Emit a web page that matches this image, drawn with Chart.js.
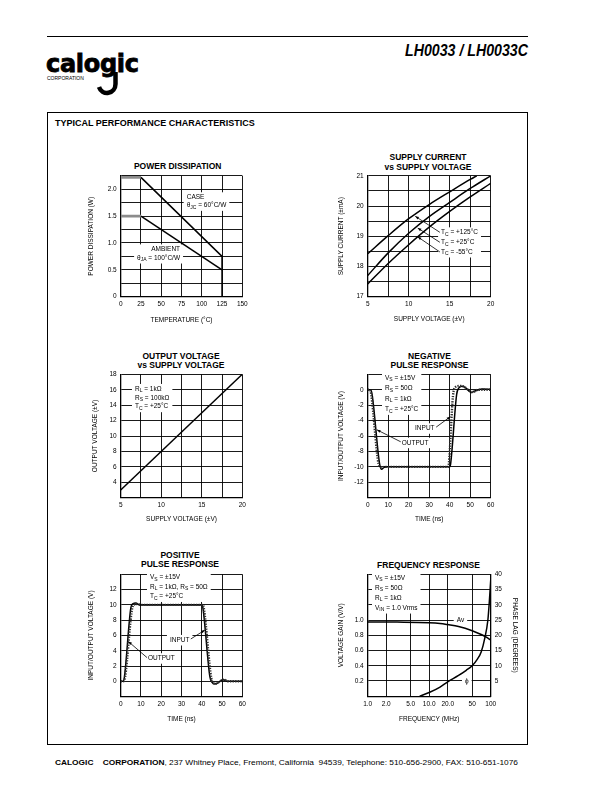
<!DOCTYPE html>
<html>
<head>
<meta charset="utf-8">
<title>LH0033 / LH0033C</title>
<script src="https://cdn.jsdelivr.net/npm/chart.js@4.4.1/dist/chart.umd.min.js"></script>
<style>
html, body { margin: 0; padding: 0; background: #fff; }
body { position: relative; width: 612px; height: 792px; overflow: hidden; }
#page { position: absolute; left: 0; top: 0; }
.plot { position: absolute; }
</style>
</head>
<body>
<svg id="page" width="612" height="792" font-family="'Liberation Sans', Arial, Helvetica, sans-serif">
  <line x1="47" y1="36.5" x2="528" y2="36.5" stroke="#000" stroke-width="1"/>
  <text x="46" y="71.7" font-family="'DejaVu Sans'" font-weight="bold" font-size="24" letter-spacing="-0.3" stroke="#000" stroke-width="0.8">calogic</text>
  <path d="M115.5 72 L115.5 84 A8.5 9 0 0 1 99 87" fill="none" stroke="#000" stroke-width="4.5"/>
  <text x="47" y="79.5" font-size="5">CORPORATION</text>
  <text x="528" y="56.4" text-anchor="end" font-size="16" font-weight="bold" font-style="italic" textLength="123" lengthAdjust="spacingAndGlyphs">LH0033 / LH0033C</text>
  <rect x="47.5" y="112.5" width="480" height="632" fill="none" stroke="#000" stroke-width="1"/>
  <text x="55" y="125.9" font-size="9" font-weight="bold">TYPICAL PERFORMANCE CHARACTERISTICS</text>
  <g font-size="8.5" font-weight="bold" text-anchor="middle">
    <text x="177.7" y="168.9">POWER DISSIPATION</text>
    <text x="428" y="160.4">SUPPLY CURRENT</text>
    <text x="428" y="169.6">vs SUPPLY VOLTAGE</text>
    <text x="181" y="358.6">OUTPUT VOLTAGE</text>
    <text x="181" y="367.8">vs SUPPLY VOLTAGE</text>
    <text x="429.5" y="358.6">NEGATIVE</text>
    <text x="429.5" y="367.8">PULSE RESPONSE</text>
    <text x="180" y="558.4">POSITIVE</text>
    <text x="180" y="567.4">PULSE RESPONSE</text>
    <text x="428.5" y="568.1">FREQUENCY RESPONSE</text>
  </g>
  <text x="55" y="764.6" font-size="8" textLength="463" lengthAdjust="spacingAndGlyphs"><tspan font-weight="bold">CALOGIC&#160;&#160;&#160; CORPORATION</tspan>, 237 Whitney Place, Fremont, California&#160; 94539, Telephone: 510-656-2900, FAX: 510-651-1076</text>
</svg>

<div id="pd" class="plot"></div>
<div id="sc" class="plot"></div>
<div id="ov" class="plot"></div>
<div id="np" class="plot"></div>
<div id="pp" class="plot"></div>
<div id="fr" class="plot"></div>

<script>
// power dissipation vs temperature
var pdCaseTemp  = [0, 25, 125, 125];
var pdCaseWatts = [2.22, 2.22, 0.75, 0];
var pdAmbTemp   = [0, 25, 125];
var pdAmbWatts  = [1.5, 1.5, 0.5];
var pdXTicks  = [0, 25, 50, 75, 100, 125, 150];
var pdYTicks  = [0, 0.5, 1, 1.5, 2];
var pdYLabels = ['0', '0.5', '1.0', '1.5', '2.0'];

// supply current vs supply voltage
var scHotVolts = [5, 7.5, 10, 12.5, 15, 17.5, 18.3];
var scHotCur   = [18.42, 19.02, 19.58, 20.05, 20.47, 20.88, 21];
var scVolts    = [5, 7.5, 10, 12.5, 15, 17.5, 20];
var scRoomCur  = [17.7, 18.45, 19.1, 19.65, 20.12, 20.58, 21];
var scColdCur  = [17.42, 18.1, 18.72, 19.3, 19.82, 20.3, 20.75];
var scXTicks = [5, 10, 15, 20];
var scYTicks = [17, 18, 19, 20, 21];

// output voltage vs supply voltage
var ovSupply = [5, 20];
var ovOutput = [3, 18];
var ovXTicks = [5, 10, 15, 20];
var ovYTicks = [4, 6, 8, 10, 12, 14, 16, 18];

// negative pulse response
var npOutTime = [0, 1.5, 2.2, 5.8, 6.8, 8, 10, 40, 40.4, 43.4, 44.4, 46, 47.5, 50.5, 53, 56, 60];
var npOutput  = [0, 0, -0.7, -9.6, -10.3, -10.05, -10, -10, -9.7, -0.6, 0.2, 0.45, 0.3, -0.35, -0.1, 0.1, 0.05];
var npInTime  = [0, 1, 1.7, 5.3, 6.3, 7, 8, 39.3, 39.6, 41.6, 42.6, 45, 47, 49, 51, 54, 60];
var npInput   = [0, 0, -0.6, -9.6, -10, -10.1, -10, -10, -9.6, -0.8, 0.3, 0.5, 0.4, 0, -0.3, 0, 0];
var npXTicks = [0, 10, 20, 30, 40, 50, 60];
var npYTicks = [0, -2, -4, -6, -8, -10, -12];

// positive pulse response
var ppOutTime = [0, 1.2, 1.8, 5, 6, 7.5, 9, 10, 40, 40.5, 44, 45, 46.3, 48, 50.5, 52, 60];
var ppOutput  = [0, 0, 0.5, 9.6, 10.15, 10.25, 10.05, 10, 10, 9.7, 0.6, -0.1, -0.35, -0.2, 0.25, 0.05, 0];
var ppInTime  = [0, 1.5, 2.2, 5.8, 6.8, 8, 10, 40.5, 41, 44.7, 45.7, 47, 49, 51, 53, 60];
var ppInput   = [0, 0, 0.6, 9.7, 10.05, 10.1, 10, 10, 9.6, 0.4, -0.2, -0.3, 0, 0.2, 0, 0];
var ppXTicks = [0, 10, 20, 30, 40, 50, 60];
var ppYTicks = [0, 2, 4, 6, 8, 10, 12];

// frequency response
var frGainFreq  = [1, 3, 10, 15, 20, 30, 50, 70, 85, 100];
var frGain      = [0.975, 0.973, 0.965, 0.955, 0.94, 0.915, 0.86, 0.81, 0.775, 0.735];
var frPhaseFreq = [7, 10, 15, 20, 30, 40, 50, 60, 70, 80, 90, 95, 100];
var frPhase     = [0, 1.2, 3, 4.7, 6.8, 8.5, 10, 12, 14.5, 19, 25, 31, 38];
var frXTicks  = [1, 2, 5, 10, 20, 50, 100];
var frXLabels = ['1.0', '2.0', '5.0', '10.0', '20.0', '50', '100'];
var frGainTicks  = [0.2, 0.4, 0.6, 0.8, 1.0];
var frGainLabels = ['0.2', '0.4', '0.6', '0.8', '1.0'];
var frPhaseTicks = [5, 10, 15, 20, 25, 30, 35, 40];

var FONT = "'Liberation Sans', Arial, Helvetica, sans-serif";
var TICK_FONT = 6.5, AXIS_FONT = 6.5, NOTE_FONT = 6.5, SUB_FONT = 5;

Chart.defaults.font.family = FONT;
Chart.defaults.color = '#000';
Chart.defaults.animation = false;
Chart.defaults.plugins.legend.display = false;
Chart.defaults.plugins.tooltip.enabled = false;

function pts(xs, ys) {
    return xs.map(function(x, i) { return {x: x, y: ys[i]}; });
}

function tickText(values, texts) {
    return function(v) {
        for (var i = 0; i < values.length; i++) {
            if (Math.abs(values[i] - v) < 1e-6) {
                return texts ? texts[i] : String(values[i]);
            }
        }
        return '';
    };
}

// canvas box around a plot area, so that the plot lands where the datasheet has it
function frame(p) {
    var half = AXIS_FONT * 1.2 / 2;
    var f = {
        left: Math.floor(p.yTitleX - half),
        top: Math.floor(p.t - 8),
        bottom: Math.ceil(p.xTitleY + half)
    };
    f.right = p.rTitleX ? Math.ceil(p.rTitleX + half) : Math.ceil(p.r + 10);
    f.yW = p.l - f.left;
    f.xH = f.bottom - p.b;
    f.padTop = p.t - f.top;
    f.padRight = p.rTitleX ? 0 : f.right - p.r;
    f.rW = f.right - p.r;
    return f;
}

function axis(o) {
    var vertical = o.position !== 'bottom';
    var cfg = {
        type: o.type || 'linear',
        position: o.position,
        min: o.min,
        max: o.max,
        afterFit: function(s) {
            if (vertical) { s.width = o.size; } else { s.height = o.size; }
        },
        grid: {color: '#000', lineWidth: 0.9, drawTicks: false, drawOnChartArea: o.grid !== false},
        border: {color: '#000', width: 1.3},
        ticks: {
            autoSkip: false,
            maxRotation: 0,
            padding: 4,
            stepSize: o.step,
            font: {size: TICK_FONT},
            callback: tickText(o.ticks, o.labels)
        },
        title: {display: !!o.title, text: o.title, padding: 0, font: {size: AXIS_FONT}}
    };
    if (o.fixed) {
        cfg.afterBuildTicks = function(s) {
            s.ticks = o.fixed.map(function(v) { return {value: v}; });
        };
    }
    return cfg;
}

// "R_{L} = 1kΩ" -> text runs with subscripts
function richParts(str) {
    var parts = [], re = /_\{([^}]*)\}/g, last = 0, m;
    while ((m = re.exec(str))) {
        if (m.index > last) parts.push({t: str.slice(last, m.index), sub: false});
        parts.push({t: m[1], sub: true});
        last = re.lastIndex;
    }
    if (last < str.length) parts.push({t: str.slice(last), sub: false});
    return parts;
}

function richWidth(ctx, str) {
    var w = 0;
    richParts(str).forEach(function(p) {
        ctx.font = (p.sub ? SUB_FONT : NOTE_FONT) + 'px ' + FONT;
        w += ctx.measureText(p.t).width;
    });
    return w;
}

function drawRich(ctx, str, x, y) {
    richParts(str).forEach(function(p) {
        ctx.font = (p.sub ? SUB_FONT : NOTE_FONT) + 'px ' + FONT;
        ctx.fillText(p.t, x, p.sub ? y + 2 : y);
        x += ctx.measureText(p.t).width;
    });
}

function drawArrow(ctx, x1, y1, x2, y2) {
    var a = Math.atan2(y2 - y1, x2 - x1), len = 3.6, wid = 1.4;
    ctx.beginPath();
    ctx.moveTo(x1, y1);
    ctx.lineTo(x2, y2);
    ctx.stroke();
    ctx.beginPath();
    ctx.moveTo(x2, y2);
    ctx.lineTo(x2 - len * Math.cos(a) + wid * Math.sin(a), y2 - len * Math.sin(a) - wid * Math.cos(a));
    ctx.lineTo(x2 - len * Math.cos(a) - wid * Math.sin(a), y2 - len * Math.sin(a) + wid * Math.cos(a));
    ctx.closePath();
    ctx.fill();
}

// text blocks (with white backing that breaks the grid) and leader arrows
function notes(cfg) {
    return {
        id: 'notes',
        beforeDatasetsDraw: function(chart) {
            var ctx = chart.ctx, xs = chart.scales.x, ys = chart.scales.y;
            (cfg.blocks || []).forEach(function(b) {
                var px = xs.getPixelForValue(b.x);
                var items = b.lines.map(function(l) {
                    var w = richWidth(ctx, l[0]);
                    return {text: l[0], left: b.align === 'right' ? px - w : px, w: w, y: ys.getPixelForValue(l[1])};
                });
                var x0 = Math.min.apply(null, items.map(function(i) { return i.left; })) - 3;
                var x1 = Math.max.apply(null, items.map(function(i) { return i.left + i.w; })) + 3;
                var y0 = Math.min.apply(null, items.map(function(i) { return i.y; })) - 5;
                var y1 = Math.max.apply(null, items.map(function(i) { return i.y; })) + 5.5;
                ctx.save();
                ctx.fillStyle = '#fff';
                ctx.fillRect(x0, y0, x1 - x0, y1 - y0);
                ctx.fillStyle = '#000';
                ctx.textBaseline = 'middle';
                ctx.textAlign = 'left';
                items.forEach(function(i) { drawRich(ctx, i.text, i.left, i.y); });
                ctx.restore();
            });
        },
        afterDatasetsDraw: function(chart) {
            var ctx = chart.ctx, xs = chart.scales.x, ys = chart.scales.y;
            ctx.save();
            ctx.strokeStyle = '#000';
            ctx.fillStyle = '#000';
            ctx.lineWidth = 0.8;
            (cfg.arrows || []).forEach(function(a) {
                drawArrow(ctx, xs.getPixelForValue(a[0]), ys.getPixelForValue(a[1]),
                    xs.getPixelForValue(a[2]), ys.getPixelForValue(a[3]));
            });
            ctx.restore();
        }
    };
}

function curve(xs, ys, extra) {
    return Object.assign({
        data: pts(xs, ys),
        borderColor: '#000',
        borderWidth: 1.5,
        pointRadius: 0,
        fill: false,
        tension: 0
    }, extra || {});
}

function dotted(xs, ys) {
    return curve(xs, ys, {borderColor: '#2e2e2e', borderWidth: 2.4, borderDash: [1.3, 1.3], cubicInterpolationMode: 'monotone'});
}

function build(id, p, scales, datasets, note) {
    var f = frame(p);
    var box = document.getElementById(id);
    box.style.left = f.left + 'px';
    box.style.top = f.top + 'px';
    box.style.width = (f.right - f.left) + 'px';
    box.style.height = (f.bottom - f.top) + 'px';
    var canvas = document.createElement('canvas');
    box.appendChild(canvas);
    return new Chart(canvas, {
        type: 'line',
        data: {datasets: datasets},
        options: {
            responsive: true,
            maintainAspectRatio: false,
            layout: {padding: {left: 0, top: f.padTop, right: f.padRight, bottom: 0}},
            scales: scales(f)
        },
        plugins: [notes(note)]
    });
}

var flatPart = function(c) { return c.p0.parsed.x < 25; };
var flatStyle = {
    borderColor: function(c) { return flatPart(c) ? '#8c8c8c' : '#000'; },
    borderWidth: function(c) { return flatPart(c) ? 2.6 : 1.5; }
};

build('pd', {l: 120.7, t: 175.8, r: 242.3, b: 296.7, yTitleX: 91.7, xTitleY: 320}, function(f) {
    return {
        x: axis({position: 'bottom', min: 0, max: 150, step: 25, ticks: pdXTicks, size: f.xH, title: 'TEMPERATURE (°C)'}),
        y: axis({position: 'left', min: 0, max: 2.25, step: 0.25, ticks: pdYTicks, labels: pdYLabels, size: f.yW, title: 'POWER DISSIPATION (W)'})
    };
}, [
    curve(pdCaseTemp, pdCaseWatts, {segment: flatStyle}),
    curve(pdAmbTemp, pdAmbWatts, {segment: flatStyle})
], {
    blocks: [
        {x: 81.4, lines: [['CASE', 1.85], ['θ_{JC} = 60°C/W', 1.70]]},
        {x: 73.2, align: 'right', lines: [['AMBIENT', 0.88], ['θ_{JA} = 100°C/W', 0.72]]}
    ]
});

build('sc', {l: 367.7, t: 175.8, r: 490.7, b: 296.7, yTitleX: 341.7, xTitleY: 318.3}, function(f) {
    return {
        x: axis({position: 'bottom', min: 5, max: 20, step: 2.5, ticks: scXTicks, size: f.xH, title: 'SUPPLY VOLTAGE (±V)'}),
        y: axis({position: 'left', min: 17, max: 21, step: 0.5, ticks: scYTicks, size: f.yW, title: 'SUPPLY CURRENT (±mA)'})
    };
}, [
    curve(scHotVolts, scHotCur, {cubicInterpolationMode: 'monotone'}),
    curve(scVolts, scRoomCur, {cubicInterpolationMode: 'monotone'}),
    curve(scVolts, scColdCur, {cubicInterpolationMode: 'monotone'})
], {
    blocks: [
        {x: 13.95, lines: [['T_{C} = +125°C', 19.13], ['T_{C} = +25°C', 18.8], ['T_{C} = -55°C', 18.48]]}
    ],
    arrows: [[13.8, 19.13, 10.8, 19.66], [13.8, 18.8, 11.1, 19.27], [13.8, 18.48, 11.1, 18.98]]
});

build('ov', {l: 120.7, t: 374.3, r: 242.3, b: 497.7, yTitleX: 95, xTitleY: 518.3}, function(f) {
    return {
        x: axis({position: 'bottom', min: 5, max: 20, step: 2.5, ticks: ovXTicks, size: f.xH, title: 'SUPPLY VOLTAGE (±V)'}),
        y: axis({position: 'left', min: 2, max: 18, step: 2, ticks: ovYTicks, size: f.yW, title: 'OUTPUT VOLTAGE (±V)'})
    };
}, [
    curve(ovSupply, ovOutput)
], {
    blocks: [
        {x: 6.76, lines: [['R_{L} = 1kΩ', 16.1], ['R_{S} = 100kΩ', 14.95], ['T_{C} = +25°C', 13.8]]}
    ]
});

build('np', {l: 367.7, t: 374.3, r: 490.7, b: 497.7, yTitleX: 341.7, xTitleY: 518.3}, function(f) {
    return {
        x: axis({position: 'bottom', min: 0, max: 60, step: 10, ticks: npXTicks, size: f.xH, title: 'TIME (ns)'}),
        y: axis({position: 'left', min: -14, max: 2, step: 2, ticks: npYTicks, size: f.yW, title: 'INPUT/OUTPUT VOLTAGE (V)'})
    };
}, [
    dotted(npInTime, npInput),
    curve(npOutTime, npOutput, {cubicInterpolationMode: 'monotone'})
], {
    blocks: [
        {x: 8.44, lines: [['V_{S} = ±15V', 1.53], ['R_{S} = 50Ω', 0.17], ['R_{L} = 1kΩ', -1.19], ['T_{C} = +25°C', -2.55]]},
        {x: 23.1, lines: [['INPUT', -5.0]]},
        {x: 16.6, lines: [['OUTPUT', -6.87]]}
    ],
    arrows: [[33.4, -4.85, 40.3, -3.5], [16.1, -6.75, 4.5, -5.2]]
});

build('pp', {l: 120.7, t: 574.3, r: 242.3, b: 696.6, yTitleX: 91.7, xTitleY: 719}, function(f) {
    return {
        x: axis({position: 'bottom', min: 0, max: 60, step: 10, ticks: ppXTicks, size: f.xH, title: 'TIME (ns)'}),
        y: axis({position: 'left', min: -2, max: 14, step: 2, ticks: ppYTicks, size: f.yW, title: 'INPUT/OUTPUT VOLTAGE (V)'})
    };
}, [
    dotted(ppInTime, ppInput),
    curve(ppOutTime, ppOutput, {cubicInterpolationMode: 'monotone'})
], {
    blocks: [
        {x: 14.45, lines: [['V_{S} = ±15V', 13.58], ['R_{L} = 1kΩ, R_{S} = 50Ω', 12.34], ['T_{C} = +25°C', 11.1]]},
        {x: 24.3, lines: [['INPUT', 5.41]]},
        {x: 13.5, lines: [['OUTPUT', 3.02]]}
    ],
    arrows: [[34.6, 5.54, 41.5, 6.7], [13.0, 3.1, 3.8, 5.2]]
});

build('fr', {l: 367.7, t: 574.3, r: 490.7, b: 696.2, yTitleX: 341.7, xTitleY: 718.3, rTitleX: 515}, function(f) {
    return {
        x: axis({type: 'logarithmic', position: 'bottom', min: 1, max: 100, fixed: frXTicks, ticks: frXTicks, labels: frXLabels, size: f.xH, title: 'FREQUENCY (MHz)'}),
        y: axis({position: 'left', min: 0, max: 1.6, step: 0.2, ticks: frGainTicks, labels: frGainLabels, size: f.yW, title: 'VOLTAGE GAIN (V/V)'}),
        y2: axis({position: 'right', min: 0, max: 40, step: 5, ticks: frPhaseTicks, size: f.rW, grid: false, title: 'PHASE LAG (DEGREES)'})
    };
}, [
    curve(frGainFreq, frGain, {yAxisID: 'y', cubicInterpolationMode: 'monotone'}),
    curve(frPhaseFreq, frPhase, {yAxisID: 'y2', cubicInterpolationMode: 'monotone'})
], {
    blocks: [
        {x: 1.314, lines: [['V_{S} = ±15V', 1.551], ['R_{S} = 50Ω', 1.42], ['R_{L} = 1kΩ', 1.289], ['V_{IN} = 1.0 Vrms', 1.157]]},
        {x: 28, lines: [['Av', 1.0]]},
        {x: 38.2, lines: [['ϕ', 0.2]]}
    ]
});
</script>
</body>
</html>
